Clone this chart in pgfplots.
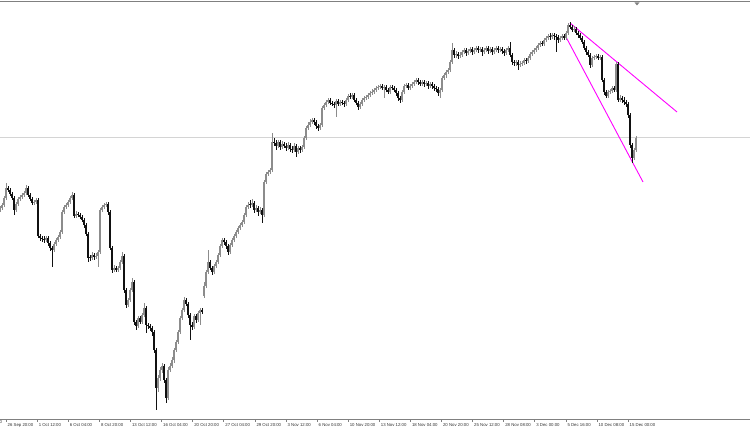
\documentclass[border=0pt]{standalone}
\usepackage{fontspec}
\setmainfont{Liberation Sans}
\usepackage{pgfplots}
\usepackage{pgfplotstable}
\pgfplotsset{compat=1.18}
\definecolor{barup}{HTML}{8C8C8C}
\definecolor{bardn}{HTML}{111111}
\definecolor{lvl}{HTML}{D4D4D4}
\definecolor{axgray}{HTML}{808080}
\definecolor{lbl}{HTML}{303030}
\definecolor{trend}{HTML}{FF00FF}

% H4 candles, prices kept in screen rows (small = high), x in screen columns
\pgfplotstableread{
x o h l c
0 210 206 212 208
2 208 203 210 205
4 205 196 207 198
6 198 183 200 188
8 188 186 192 190
10 190 188 196 194
12 194 192 200 198
14 198 196 215 210
16 210 202 212 204
18 204 197 206 199
20 199 195 201 197
22 197 193 199 195
24 195 191 197 193
26 193 185 195 188
28 188 186 197 195
30 195 193 201 199
32 199 197 205 203
34 203 200 205 202
36 202 198 204 200
38 200 198 238 236
40 236 234 241 238
42 238 236 242 239
44 239 236 243 240
46 240 236 242 238
48 238 236 246 243
50 243 241 251 248
52 248 246 267 250
54 250 242 252 244
56 244 238 246 240
58 240 235 242 237
60 237 230 239 232
62 232 210 234 212
64 212 205 214 207
66 207 203 209 205
68 205 200 207 202
70 202 196 204 198
72 198 192 200 195
74 195 193 218 216
76 216 211 218 214
78 214 212 217 215
80 215 213 219 217
82 217 215 222 220
84 220 218 228 225
86 225 223 236 234
88 234 232 262 258
90 258 255 261 258
92 258 252 260 255
94 255 253 260 257
96 257 253 259 256
98 256 250 267 252
100 252 208 254 210
102 210 205 212 207
104 207 203 209 205
106 205 202 207 204
108 204 202 215 212
110 212 210 250 248
112 248 246 273 270
114 270 265 272 268
116 268 266 272 270
118 270 266 272 268
120 268 260 270 262
122 262 252 264 256
124 256 254 293 290
126 290 288 308 305
128 305 298 307 300
130 300 288 302 290
132 290 278 292 282
134 282 280 325 322
136 322 320 330 326
138 326 316 328 318
140 318 316 324 322
142 322 313 324 315
144 315 303 317 308
146 308 306 333 325
148 325 323 329 326
150 326 324 331 328
152 328 326 336 332
154 332 330 353 350
156 350 348 410 388
158 388 375 392 378
160 378 367 381 370
162 370 363 373 366
164 366 364 383 380
166 380 378 403 398
168 398 367 400 370
170 370 363 372 366
172 366 357 368 360
174 360 348 363 350
176 350 340 352 342
178 342 330 344 332
180 332 316 334 318
182 318 308 320 310
184 310 297 312 300
186 300 298 306 304
188 304 302 318 315
190 315 313 340 325
192 325 322 330 327
194 327 314 329 316
196 316 314 323 320
198 320 311 322 313
200 313 308 325 310
202 310 308 314 312
204 296 282 298 286
206 286 270 288 272
208 272 250 274 262
210 262 260 270 268
212 268 266 275 272
214 272 264 274 266
216 266 260 268 262
218 262 253 264 255
220 255 244 257 246
222 246 238 248 240
224 240 238 245 242
226 242 240 249 246
228 246 244 255 252
230 252 243 254 245
232 245 238 247 240
234 240 234 242 236
236 236 230 238 232
238 232 226 234 228
240 228 223 230 225
242 225 220 227 222
244 222 213 224 215
246 215 205 217 207
248 207 202 209 205
250 205 200 208 205
252 205 199 207 203
254 203 201 213 210
256 210 205 212 208
258 208 206 216 212
260 212 207 214 210
262 210 208 223 215
264 215 180 217 182
266 182 172 184 174
268 174 170 176 172
270 172 168 174 170
272 170 133 172 142
274 142 138 146 143
276 143 140 150 146
278 146 140 148 142
280 142 140 150 147
282 147 141 149 144
284 144 142 148 146
286 146 143 151 148
288 148 142 150 145
290 145 143 152 149
292 149 146 153 150
294 150 143 152 146
296 146 144 157 152
298 152 146 154 148
300 148 146 153 150
302 150 145 152 147
304 147 136 149 138
306 138 126 140 128
308 128 122 130 125
310 125 119 127 122
312 122 118 124 120
314 120 118 125 122
316 122 120 129 126
318 126 124 131 128
320 128 123 130 125
322 125 106 127 108
324 108 103 110 105
326 105 100 107 102
328 102 98 104 100
330 100 98 105 103
332 103 101 106 104
334 104 102 108 105
336 105 99 117 101
338 101 99 106 104
340 104 100 106 102
342 102 100 105 103
344 103 101 107 104
346 104 98 106 100
348 100 94 102 96
350 96 93 99 97
352 97 93 99 95
354 95 93 102 100
356 100 98 105 103
358 103 101 110 107
360 107 102 109 104
362 104 98 106 100
364 100 96 102 98
366 98 95 100 97
368 97 93 99 95
370 95 91 97 93
372 93 89 95 92
374 92 88 94 90
376 90 86 92 88
378 88 85 90 87
380 87 84 89 86
382 86 84 90 88
384 88 85 98 87
386 87 85 92 90
388 90 88 94 92
390 92 85 94 87
392 87 85 90 88
394 88 86 92 90
396 90 88 96 93
398 93 91 101 98
400 98 96 103 100
402 100 90 102 92
404 92 84 94 86
406 86 83 88 85
408 85 83 90 88
410 88 84 90 86
412 86 82 88 84
414 84 80 86 82
416 82 78 84 80
418 80 78 85 82
420 82 80 86 84
422 84 80 86 82
424 82 80 87 84
426 84 81 86 83
428 83 81 89 86
430 86 82 88 84
432 84 82 89 86
434 86 84 91 88
436 88 86 92 89
438 89 87 96 93
440 93 88 98 90
442 90 76 92 78
444 78 73 80 75
446 75 70 78 72
448 72 68 74 70
450 70 60 72 62
452 62 43 64 50
454 50 48 58 55
456 55 51 58 54
458 54 52 59 56
460 56 52 58 55
462 55 50 57 52
464 52 48 54 50
466 50 48 56 53
468 53 49 55 51
470 51 47 53 49
472 49 47 55 52
474 52 48 54 50
476 50 46 52 48
478 48 46 53 50
480 50 47 52 49
482 49 47 56 52
484 52 48 54 50
486 50 46 52 48
488 48 46 54 51
490 51 47 53 49
492 49 47 55 52
494 52 48 54 50
496 50 46 52 48
498 48 46 53 50
500 50 47 52 49
502 49 47 54 51
504 51 49 56 53
506 53 48 55 50
508 50 46 52 48
510 48 42 57 55
512 55 53 65 62
514 62 60 66 63
516 63 60 66 62
518 62 60 70 65
520 65 61 67 64
522 64 61 66 63
524 63 58 65 60
526 60 58 64 61
528 61 56 63 58
530 58 52 60 54
532 54 50 56 52
534 52 48 54 50
536 50 46 52 48
538 48 43 50 45
540 45 41 47 43
542 43 41 46 44
544 44 38 46 40
546 40 36 42 38
548 38 34 40 36
550 36 33 40 37
552 37 33 39 35
554 35 33 40 36
556 36 34 52 37
558 37 35 43 40
560 40 36 42 38
562 38 34 40 36
564 36 34 40 38
566 38 31 40 33
568 33 23 35 25
570 25 22 29 27
572 27 25 32 30
574 30 26 32 29
576 29 27 35 33
578 33 31 38 35
580 35 33 40 38
582 38 36 44 42
584 42 40 50 48
586 48 46 55 52
588 52 50 57 55
590 55 53 68 65
592 65 56 67 58
594 58 55 60 57
596 57 54 59 56
598 56 54 60 58
600 58 55 60 57
602 57 55 82 80
604 80 78 95 92
606 92 90 98 96
608 96 90 98 92
610 92 89 94 91
612 91 86 93 88
614 88 86 92 90
616 90 62 92 64
618 64 62 102 100
620 100 95 102 98
622 98 96 103 100
624 100 97 105 102
626 102 100 107 104
628 104 102 118 115
630 115 113 148 145
632 145 143 163 158
634 158 148 160 150
636 150 136 152 138
}\candles

\begin{document}
\begin{tikzpicture}
\begin{axis}[
  at={(0,0)}, anchor=south west,
  x=1pt, y=1pt,
  xmin=0, xmax=750, ymin=11, ymax=428.5,
  clip=false,
  axis x line*=bottom, axis y line=none,
  x axis line style={axgray, line width=0.7pt},
  ytick=\empty,
  xtick={6,37.1,68.2,99.3,130.4,161.5,192.6,223.7,254.8,285.9,317,348.1,379.2,410.3,441.4,472.5,503.6,534.7,565.8,596.9,628},
  xticklabels={26 Sep 20:00,1 Oct 12:00,6 Oct 04:00,8 Oct 20:00,13 Oct 12:00,16 Oct 04:00,20 Oct 20:00,27 Oct 04:00,29 Oct 20:00,3 Nov 12:00,6 Nov 04:00,10 Nov 20:00,13 Nov 12:00,18 Nov 04:00,20 Nov 20:00,25 Nov 12:00,28 Nov 08:00,3 Dec 00:00,5 Dec 16:00,10 Dec 08:00,15 Dec 00:00},
  tick align=outside, major tick length=3pt,
  tick style={axgray, line width=0.5pt},
  xticklabel style={font=\fontsize{4.3}{5}\selectfont, text=lbl, anchor=north west, inner sep=0pt, xshift=1.5pt, yshift=-1.5pt},
  restrict x to domain=-1:800,
  candle/.style={draw=none, no markers, forget plot,
    error bars/.cd, y dir=plus, y explicit, error mark=none},
]
  % level line and the two channel lines
  \addplot[lvl, line width=0.6pt, forget plot, no markers] coordinates {(0,293) (750,293)};
  \addplot[trend, line width=0.9pt, forget plot, no markers] coordinates {(570,407) (677,318)};
  \addplot[trend, line width=0.9pt, forget plot, no markers] coordinates {(566,393) (643,248)};

  % wicks (bars that do not belong to a series get x=-100 and are dropped)
  \addplot[candle, error bar style={draw=barup, line width=0.6pt}]
    table[x expr={(\thisrow{c}<\thisrow{o}) ? \thisrow{x} : -100},
          y expr={430-\thisrow{l}}, y error plus expr={\thisrow{l}-\thisrow{h}}] {\candles};
  \addplot[candle, error bar style={draw=bardn, line width=0.6pt}]
    table[x expr={(\thisrow{c}<\thisrow{o}) ? -100 : \thisrow{x}},
          y expr={430-\thisrow{l}}, y error plus expr={\thisrow{l}-\thisrow{h}}] {\candles};
  % bodies
  \addplot[candle, error bar style={draw=barup, line width=1.3pt}]
    table[x expr={(\thisrow{c}<\thisrow{o}) ? \thisrow{x} : -100},
          y expr={430-max(\thisrow{o},\thisrow{c})},
          y error plus expr={max(abs(\thisrow{o}-\thisrow{c}),1)}] {\candles};
  \addplot[candle, error bar style={draw=bardn, line width=1.3pt}]
    table[x expr={(\thisrow{c}<\thisrow{o}) ? -100 : \thisrow{x}},
          y expr={430-max(\thisrow{o},\thisrow{c})},
          y error plus expr={max(abs(\thisrow{o}-\thisrow{c}),1)}] {\candles};

  % chart frame top and shift marker
  \draw[axgray, line width=1.5pt] (axis cs:0,428.6) -- (axis cs:750,428.6);
  \fill[axgray] (axis cs:634.5,427.5) -- (axis cs:639.5,427.5) -- (axis cs:637,424.5) -- cycle;
  \node[anchor=north east, inner sep=0pt, font=\fontsize{4.3}{5}\selectfont, text=lbl] at (axis cs:2.2,9.5) {0};
\end{axis}
\pgfresetboundingbox
\path[use as bounding box] (0,-11pt) rectangle (750pt,419pt);
\end{tikzpicture}
\end{document}
